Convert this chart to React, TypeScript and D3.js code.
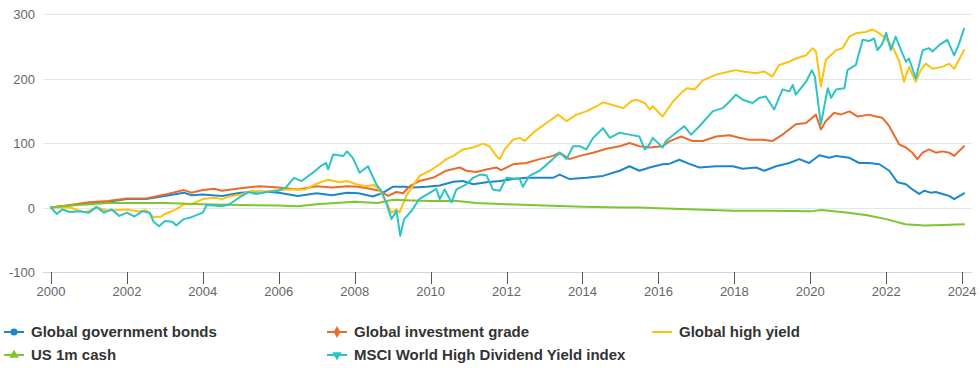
import React from 'react';
import * as d3 from 'd3';

type Point = [number, number]; // [decimal year, cumulative return %]

// Readings, per series
const govBonds: Point[] = [
  [2000, 0], [2000.5, 3], [2001, 7], [2001.5, 9], [2002, 13], [2002.5, 13], [2003, 18], [2003.5, 23],
  [2003.7, 19], [2004, 20], [2004.5, 18], [2005, 23], [2005.5, 25], [2006, 23], [2006.5, 18], [2007, 22],
  [2007.4, 19], [2007.8, 23], [2008.1, 22], [2008.48, 17], [2008.75, 23], [2009, 32], [2009.3, 32],
  [2009.54, 31], [2009.89, 32], [2010.24, 34], [2010.6, 40], [2010.85, 41], [2011.12, 36], [2011.47, 39],
  [2011.82, 41], [2012.17, 44], [2012.52, 46], [2012.87, 46], [2013.22, 46], [2013.4, 51], [2013.66, 44],
  [2014.1, 46], [2014.54, 49], [2014.98, 57], [2015.24, 64], [2015.5, 57], [2015.77, 62], [2016.11, 67],
  [2016.3, 68], [2016.55, 74], [2016.8, 68], [2017.08, 62], [2017.52, 64], [2017.96, 64], [2018.22, 60],
  [2018.57, 62], [2018.79, 57], [2019.1, 64], [2019.45, 69], [2019.71, 75], [2019.97, 69], [2020.24, 81],
  [2020.5, 77], [2020.68, 80], [2021.03, 77], [2021.29, 69], [2021.55, 69], [2021.82, 67], [2022.08, 57],
  [2022.3, 39], [2022.52, 36], [2022.69, 28], [2022.87, 21], [2023.0, 26], [2023.17, 23], [2023.31, 24],
  [2023.48, 21], [2023.66, 18], [2023.79, 13], [2024.05, 22],
];

const invGrade: Point[] = [
  [2000, 0], [2000.5, 4], [2001, 8], [2001.5, 10], [2002, 14], [2002.5, 14], [2003, 20], [2003.5, 27],
  [2003.7, 23], [2004, 27], [2004.3, 29], [2004.5, 26], [2005, 30], [2005.5, 33], [2006, 31], [2006.5, 28],
  [2007, 33], [2007.4, 31], [2007.8, 33], [2008.1, 32], [2008.4, 29], [2008.66, 26], [2008.88, 18],
  [2009.1, 24], [2009.27, 22], [2009.45, 33], [2009.7, 41], [2010.06, 46], [2010.41, 57], [2010.77, 62],
  [2010.94, 57], [2011.2, 55], [2011.47, 59], [2011.73, 62], [2011.86, 58], [2012.17, 67], [2012.52, 69],
  [2012.87, 75], [2013.22, 80], [2013.4, 85], [2013.66, 75], [2013.93, 80], [2014.28, 85], [2014.63, 91],
  [2014.98, 95], [2015.24, 100], [2015.5, 95], [2015.77, 93], [2016.11, 95], [2016.3, 103], [2016.6, 110],
  [2016.9, 103], [2017.17, 103], [2017.52, 110], [2017.87, 112], [2018.13, 108], [2018.39, 105],
  [2018.75, 105], [2019.0, 103], [2019.27, 113], [2019.62, 129], [2019.89, 131], [2020.15, 144],
  [2020.28, 121], [2020.41, 134], [2020.63, 147], [2020.8, 144], [2021.03, 149], [2021.25, 141],
  [2021.55, 144], [2021.73, 141], [2021.9, 139], [2022.08, 126], [2022.34, 98], [2022.52, 93],
  [2022.69, 85], [2022.82, 75], [2022.96, 85], [2023.13, 90], [2023.31, 85], [2023.48, 87], [2023.66, 85],
  [2023.79, 80], [2024.05, 95],
];

const highYield: Point[] = [
  [2000, 0], [2000.5, 0], [2000.9, -8], [2001.2, 0], [2001.5, -5], [2002, -3], [2002.3, -6], [2002.5, -4],
  [2002.7, -15], [2002.9, -14], [2003, -10], [2003.3, -3], [2003.5, 5], [2003.7, 5], [2004, 13], [2004.3, 15],
  [2004.5, 13], [2004.7, 17], [2005, 20], [2005.3, 26], [2005.5, 24], [2006, 27], [2006.3, 28], [2006.7, 28],
  [2007, 37], [2007.3, 43], [2007.6, 39], [2007.8, 41], [2008.04, 36], [2008.3, 33], [2008.5, 35],
  [2008.66, 27], [2008.83, 8], [2008.97, -8], [2009.1, -3], [2009.18, -8], [2009.36, 18], [2009.71, 49],
  [2009.98, 57], [2010.24, 67], [2010.41, 75], [2010.6, 80], [2010.85, 90], [2011.12, 93], [2011.38, 99],
  [2011.55, 95], [2011.73, 80], [2011.82, 75], [2011.95, 90], [2012.17, 105], [2012.35, 108], [2012.48, 103],
  [2012.7, 116], [2013.05, 131], [2013.36, 144], [2013.58, 134], [2013.84, 144], [2014.1, 149],
  [2014.37, 157], [2014.54, 163], [2014.8, 159], [2015.07, 154], [2015.29, 165], [2015.42, 167],
  [2015.64, 162], [2015.77, 152], [2015.85, 157], [2016.11, 141], [2016.38, 164], [2016.64, 180],
  [2016.77, 185], [2016.95, 183], [2017.17, 197], [2017.52, 206], [2017.87, 211], [2018.04, 213],
  [2018.22, 211], [2018.57, 208], [2018.79, 211], [2019.0, 203], [2019.18, 221], [2019.45, 226],
  [2019.62, 231], [2019.89, 236], [2020.06, 247], [2020.15, 242], [2020.28, 188], [2020.41, 229],
  [2020.54, 236], [2020.68, 244], [2020.85, 247], [2021.03, 265], [2021.2, 270], [2021.46, 272],
  [2021.64, 276], [2021.82, 270], [2021.99, 262], [2022.17, 249], [2022.35, 226], [2022.47, 195],
  [2022.6, 218], [2022.78, 195], [2022.91, 213], [2023.04, 223], [2023.22, 215], [2023.48, 218],
  [2023.66, 223], [2023.79, 215], [2024.05, 244],
];

const cash: Point[] = [
  [2000, 0], [2000.5, 3], [2001, 5], [2001.5, 7], [2002, 7], [2003, 7], [2004, 5], [2005, 4], [2006, 3],
  [2006.5, 2], [2007, 5], [2007.5, 7], [2008, 9], [2008.6, 7], [2009, 12], [2009.5, 11], [2010, 10],
  [2010.7, 10], [2011.2, 7], [2012, 5], [2013, 3], [2014, 1], [2015, 0], [2015.5, 0], [2016, -1],
  [2017, -3], [2018, -5], [2019, -5], [2020, -6], [2020.3, -4], [2021, -8], [2021.5, -12], [2022, -18],
  [2022.5, -26], [2023, -28], [2023.5, -27], [2024.05, -26],
];

const msciHighDiv: Point[] = [
  [2000, 0], [2000.15, -10], [2000.3, -3], [2000.5, -7], [2000.8, -6], [2001, -8], [2001.2, 1], [2001.4, -8],
  [2001.6, -3], [2001.8, -13], [2002, -8], [2002.2, -14], [2002.4, -6], [2002.6, -8], [2002.7, -22],
  [2002.85, -29], [2003, -21], [2003.2, -22], [2003.3, -28], [2003.5, -18], [2003.7, -15], [2004, -8],
  [2004.1, 4], [2004.3, 3], [2004.5, 2], [2004.7, 5], [2005, 17], [2005.2, 24], [2005.4, 21], [2005.7, 24],
  [2006, 26], [2006.2, 32], [2006.4, 46], [2006.6, 41], [2006.9, 54], [2007.1, 64], [2007.25, 69],
  [2007.3, 59], [2007.43, 82], [2007.7, 80], [2007.8, 87], [2007.95, 77], [2008.13, 54], [2008.35, 64],
  [2008.57, 36], [2008.7, 26], [2008.83, 8], [2008.97, -18], [2009.1, -5], [2009.2, -44], [2009.3, -18],
  [2009.5, -5], [2009.7, 13], [2009.93, 21], [2010.15, 29], [2010.24, 13], [2010.37, 28], [2010.55, 8],
  [2010.68, 28], [2010.94, 36], [2011.12, 46], [2011.3, 51], [2011.47, 50], [2011.64, 28], [2011.82, 26],
  [2012, 46], [2012.35, 44], [2012.43, 32], [2012.6, 49], [2012.87, 57], [2013.22, 75], [2013.4, 85],
  [2013.58, 75], [2013.75, 95], [2013.93, 95], [2014.1, 90], [2014.28, 108], [2014.54, 123], [2014.72, 108],
  [2014.98, 116], [2015.24, 113], [2015.5, 110], [2015.64, 90], [2015.77, 98], [2015.85, 108],
  [2016.11, 93], [2016.2, 103], [2016.46, 116], [2016.68, 126], [2016.86, 113], [2017.08, 126],
  [2017.43, 149], [2017.69, 154], [2017.87, 164], [2018.04, 175], [2018.22, 167], [2018.48, 162],
  [2018.66, 170], [2018.83, 172], [2019.05, 152], [2019.27, 183], [2019.45, 180], [2019.54, 190],
  [2019.62, 175], [2019.89, 195], [2020.04, 213], [2020.12, 203], [2020.28, 129], [2020.46, 185],
  [2020.55, 170], [2020.68, 183], [2020.9, 185], [2020.98, 213], [2021.2, 221], [2021.38, 260],
  [2021.55, 258], [2021.68, 262], [2021.77, 244], [2021.9, 254], [2022.0, 271], [2022.12, 244],
  [2022.25, 265], [2022.39, 244], [2022.52, 226], [2022.6, 231], [2022.78, 200], [2022.96, 244],
  [2023.13, 247], [2023.22, 242], [2023.4, 252], [2023.61, 260], [2023.79, 236], [2023.92, 254],
  [2024.05, 277],
];

const yTicks = [-100, 0, 100, 200, 300];
const xTicks = [2000, 2002, 2004, 2006, 2008, 2010, 2012, 2014, 2016, 2018, 2020, 2022, 2024];

const series = [
  { name: 'Global government bonds', data: govBonds, color: '#1b87cc', symbol: d3.symbolCircle, rot: 0 },
  { name: 'Global investment grade', data: invGrade, color: '#ec6a2a', symbol: d3.symbolDiamond, rot: 0 },
  { name: 'Global high yield', data: highYield, color: '#fcc20e', symbol: null, rot: 0 },
  { name: 'US 1m cash', data: cash, color: '#7cc630', symbol: d3.symbolTriangle, rot: 0 },
  { name: 'MSCI World High Dividend Yield index', data: msciHighDiv, color: '#2cc4c4', symbol: d3.symbolTriangle, rot: 180 },
];

const WIDTH = 980;
const HEIGHT = 368;
const FONT = '"Liberation Sans", Arial, Helvetica, sans-serif';

const App: React.FC = () => {
  const x = d3.scaleLinear().domain([1999.79, 2024.26]).range([43, 972]);
  const y = d3.scaleLinear().domain([-100, 300]).range([272, 14]);

  const line = d3.line<Point>()
    .x(d => x(d[0]))
    .y(d => y(d[1]));

  // legend layout: 3 columns, 2 rows
  const legendCols = [4, 327, 652];
  const legendRows = [332, 355];

  return (
    <svg width={WIDTH} height={HEIGHT} style={{ position: 'absolute', left: 0, top: 0 }} fontFamily={FONT}>
      <rect width={WIDTH} height={HEIGHT} fill="#fff" />

      {/* grid + y labels */}
      {yTicks.map(t => (
        <g key={t}>
          <line
            x1={43}
            x2={972}
            y1={Math.round(y(t)) + 0.5}
            y2={Math.round(y(t)) + 0.5}
            stroke={t === -100 ? '#ccd6eb' : '#e6e6e6'}
            strokeWidth={1}
          />
          <text x={35} y={y(t) + 5} textAnchor="end" fontSize={13} fill="#666">
            {t}
          </text>
        </g>
      ))}

      {/* x axis ticks + labels */}
      {xTicks.map(t => (
        <g key={t}>
          <line
            x1={Math.round(x(t)) + 0.5}
            x2={Math.round(x(t)) + 0.5}
            y1={272}
            y2={284}
            stroke="#555"
            strokeWidth={1}
          />
          <text x={x(t)} y={295.5} textAnchor="middle" fontSize={13} fill="#666">
            {t}
          </text>
        </g>
      ))}

      {/* series */}
      {series.map(s => (
        <path
          key={s.name}
          d={line(s.data) || ''}
          fill="none"
          stroke={s.color}
          strokeWidth={2}
          strokeLinejoin="round"
          strokeLinecap="round"
        />
      ))}

      {/* legend */}
      {series.map((s, i) => {
        const lx = legendCols[i % 3];
        const ly = legendRows[Math.floor(i / 3)];
        const sym = s.symbol ? d3.symbol().type(s.symbol).size(40)() : null;
        return (
          <g key={s.name} transform={`translate(${lx}, ${ly})`}>
            <line x1={0} x2={20} y1={0} y2={0} stroke={s.color} strokeWidth={2} />
            {sym && (
              <path d={sym || ''} fill={s.color} transform={`translate(10, 0) rotate(${s.rot})`} />
            )}
            <text x={i % 3 === 0 ? 27 : 27} y={5.3} fontSize={15} fontWeight="bold" fill="#333">
              {s.name}
            </text>
          </g>
        );
      })}
    </svg>
  );
};

export default App;
